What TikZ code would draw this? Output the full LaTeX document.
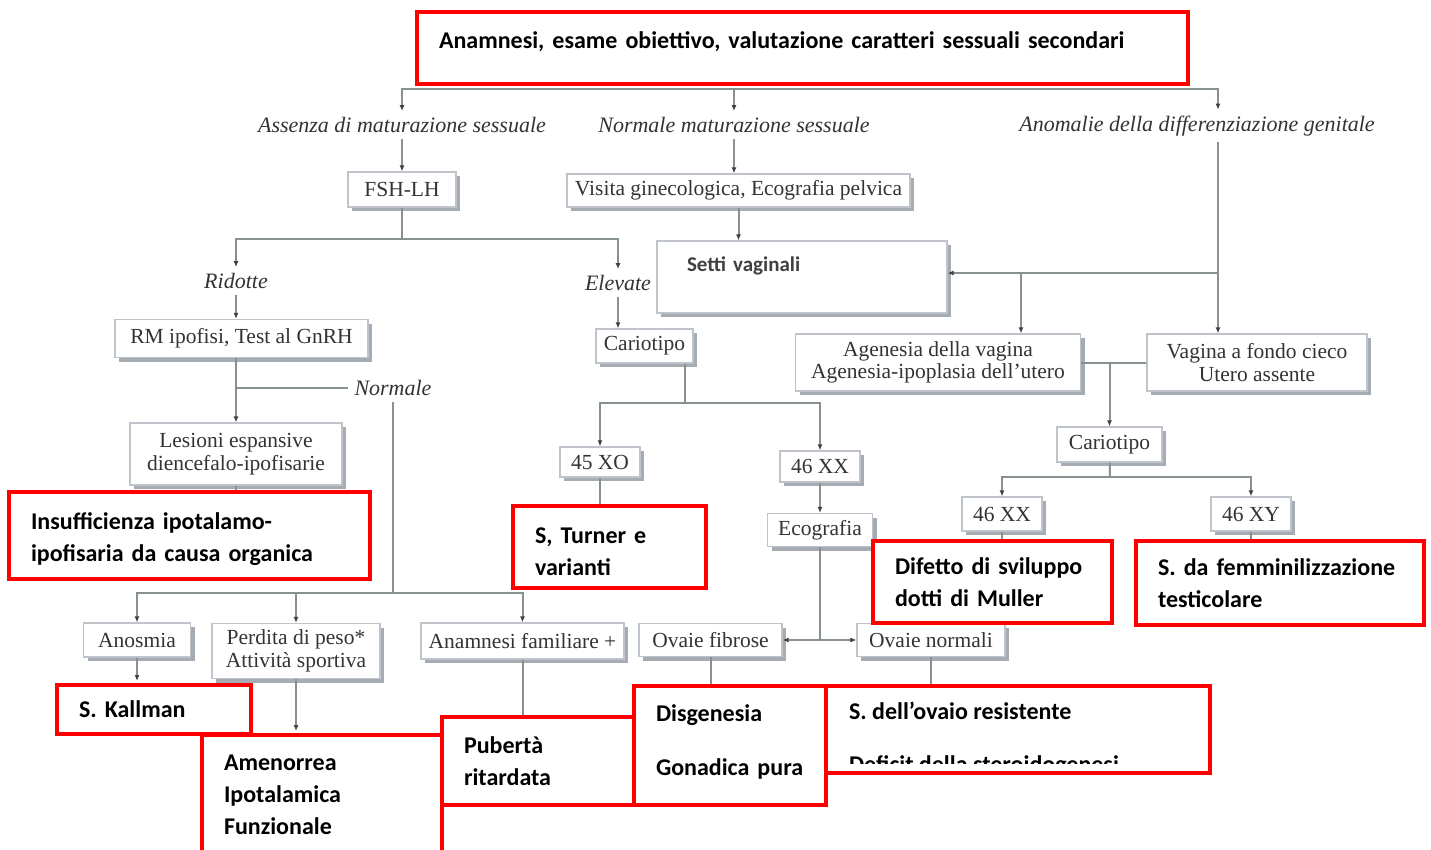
\documentclass[tikz,border=0pt]{standalone}
\usepackage{fontspec}
\setmainfont{Liberation Serif}
\newfontfamily\calibri{Carlito}
\usepackage{tikz}
\usetikzlibrary{positioning, shadows, arrows.meta}
\definecolor{linea}{RGB}{135,145,145}
\definecolor{bordo}{RGB}{190,196,202}
\definecolor{ombra}{RGB}{165,172,180}

\begin{document}
\begin{tikzpicture}[x=1pt, y=-1pt, ->, >={Latex[length=6pt, width=5pt, color=black!75]},
    esame/.style={draw=bordo, line width=1.2pt, fill=white, text=black!80, inner sep=0pt, align=center,
        font=\fontsize{21.5}{22.5}\selectfont,
        drop shadow={shadow xshift=4pt, shadow yshift=-4pt, fill=ombra, opacity=1}},
    dato/.style={font=\itshape\fontsize{22}{24}\selectfont, text=black!80, inner sep=6pt},
    esito/.style={draw=red, line width=4pt, fill=white, align=left, inner xsep=22pt,
        font=\calibri\bfseries\fontsize{24}{32}\selectfont},
    conn/.style={draw=linea, line width=2pt},
    tratto/.style={draw=linea, line width=2pt, -},
    finale/.style={shorten >=2pt}]
    \path[use as bounding box, fill=white] (0,0) rectangle (1431,850);

    % domande e risposte
    \node[dato] (assenza) at (402,125) {Assenza di maturazione sessuale};
    \node[dato] (normale) at (734,125) {Normale maturazione sessuale};
    \node[dato] (anomalie) at (1197,126) {Anomalie della differenziazione genitale};
    \node[dato] (ridotte) at (236,281) {Ridotte};
    \node[dato] (elevate) at (618,283) {Elevate};
    \node[dato] (normale2) at (393,388) {Normale};

    % esami
    \node[esame, minimum width=108pt, minimum height=35pt] (fsh) at (402,189.5) {FSH-LH};
    \node[esame, minimum width=343pt, minimum height=33pt] (visita) at (738.5,190.5) {Visita ginecologica, Ecografia pelvica};
    \node[esame, minimum width=290pt, minimum height=72pt, inner xsep=30pt, text width=230pt, align=left,
        text height=15pt, text depth=26pt, font=\calibri\bfseries\fontsize{21}{24}\selectfont, text=black!75] (setti) at (802,277) {Setti vaginali};
    \node[esame, minimum width=253pt, minimum height=38pt] (rm) at (241.5,338.5) {RM ipofisi, Test al GnRH};
    \node[esame, minimum width=97pt, minimum height=34pt] (cario) at (644.5,346) {Cariotipo};
    \node[esame, minimum width=285pt, minimum height=57pt] (agenesia) at (938,362.5) {Agenesia della vagina\\Agenesia-ipoplasia dell'utero};
    \node[esame, minimum width=220pt, minimum height=57pt] (vagina) at (1257,362.5) {Vagina a fondo cieco\\Utero assente};
    \node[esame, minimum width=212pt, minimum height=62pt] (lesioni) at (236,454) {Lesioni espansive\\diencefalo-ipofisarie};
    \node[esame, minimum width=80pt, minimum height=30pt] (xo) at (600,462) {45 XO};
    \node[esame, minimum width=80pt, minimum height=31pt] (xx) at (820,466.5) {46 XX};
    \node[esame, minimum width=105pt, minimum height=35pt] (cario2) at (1109.5,444.5) {Cariotipo};
    \node[esame, minimum width=80pt, minimum height=34pt] (xx2) at (1002,514) {46 XX};
    \node[esame, minimum width=80pt, minimum height=34pt] (xy) at (1251,514) {46 XY};
    \node[esame, minimum width=105pt, minimum height=33pt] (eco) at (820,530) {Ecografia};
    \node[esame, minimum width=107pt, minimum height=34pt] (anosmia) at (137,640) {Anosmia};
    \node[esame, minimum width=168pt, minimum height=55pt] (perdita) at (296,651) {Perdita di peso*\\Attività sportiva};
    \node[esame, minimum width=203pt, minimum height=36pt] (anamfam) at (522.5,641) {Anamnesi familiare +};
    \node[esame, minimum width=143pt, minimum height=33pt] (fibrose) at (710.5,640) {Ovaie fibrose};
    \node[esame, minimum width=148pt, minimum height=33pt] (normali) at (931,640) {Ovaie normali};

    % diagnosi
    \node[esito, text width=727pt, minimum height=72pt, text height=17pt, text depth=15pt] (anam) at (802.5,48) {Anamnesi, esame obiettivo, valutazione caratteri sessuali secondari};
    \node[esito, text width=317pt, minimum height=87pt] (insuff) at (189.5,535.5) {\rule{0pt}{25pt}Insufficienza ipotalamo-\\ipofisaria da causa organica};
    \node[esito, text width=149pt, minimum height=82pt] (turner) at (609.5,547) {\rule{0pt}{25pt}S, Turner e\\varianti};
    \node[esito, text width=195pt, minimum height=82pt] (difetto) at (992.5,582) {Difetto di sviluppo\\dotti di Muller};
    \node[esito, text width=244pt, minimum height=84pt] (femm) at (1280,583) {S. da femminilizzazione\\testicolare};
    \node[esito, text width=150pt, minimum height=49pt] (kallman) at (154,709.5) {S. Kallman};
    \node[esito, text width=196pt, minimum height=120pt] (amen) at (322,795) {Amenorrea\\Ipotalamica\\Funzionale};
    \node[esito, text width=148pt, minimum height=88pt] (pub) at (538,761) {Pubertà\\ritardata};
    \node[esito, text width=148pt, minimum height=119pt] (disg) at (730,745.5) {Disgenesia\\[22pt]Gonadica pura\rule[-11pt]{0pt}{0pt}};
    \node[esito, minimum width=384pt, minimum height=87pt, inner sep=0pt,
        path picture={
            \clip (path picture bounding box.north west) rectangle ([yshift=10pt]path picture bounding box.south east);
            \node[anchor=base west, inner sep=0pt, minimum width=0pt, minimum height=0pt, draw=none,
                font=\calibri\bfseries\fontsize{24}{32}\selectfont] (ovaio1)
                at ([xshift=21pt, yshift=-33pt]path picture bounding box.north west) {S. dell’ovaio resistente};
            \node[anchor=base west, inner sep=0pt, minimum width=0pt, minimum height=0pt, draw=none,
                font=\calibri\bfseries\fontsize{24}{32}\selectfont] (ovaio2)
                at ([xshift=21pt, yshift=-86pt]path picture bounding box.north west) {Deficit della steroidogenesi};
        }] (ovaio) at (1018,729.5) {};

    % punti di diramazione
    \coordinate (bivio1) at (393,593);
    \coordinate (bivio2) at (685,403);
    \coordinate (bivio3) at (820,640);
    \coordinate (bivio4) at (1218,273);
    \coordinate (bivio5) at (1021,273);
    \coordinate (bivio6) at (1110,477);

    \draw[conn] ([yshift=-3pt]anam.south) -| (assenza);
    \draw[conn] ([yshift=-3pt]anam.south) -| (normale);
    \draw[conn] ([yshift=-3pt]anam.south) -| ([xshift=21pt]anomalie.north);
    \draw[conn] (assenza) -- (fsh);
    \draw[conn] (normale) -- (normale |- visita.north);
    \draw[conn] (visita) -- (visita |- setti.north);
    \draw[conn] (fsh.south) -- ++(0,31) -| (ridotte);
    \draw[conn] (fsh.south) -- ++(0,31) -| (elevate);
    \draw[conn] (ridotte) -- (ridotte |- rm.north);
    \draw[conn] (elevate) -- (elevate |- cario.north);
    \draw[conn] (rm.south -| lesioni) -- (lesioni);
    \draw[tratto] (lesioni |- normale2) -- (normale2);
    \draw[tratto] (lesioni) -- (lesioni |- insuff.north);
    \draw[tratto] (normale2) -- (bivio1);
    \draw[conn] (bivio1) -| (anosmia);
    \draw[conn] (bivio1) -| (perdita);
    \draw[conn] (bivio1) -| (anamfam);
    \draw[conn, finale] (anosmia) -- (anosmia |- kallman.north);
    \draw[conn, finale] (perdita) -- (perdita |- amen.north);
    \draw[tratto] (anamfam) -- (anamfam |- pub.north);
    \draw[tratto] (bivio2 |- cario.south) -- (bivio2);
    \draw[conn] (bivio2) -| (xo);
    \draw[conn] (bivio2) -| (xx);
    \draw[tratto] (xo) -- (xo |- turner.north);
    \draw[conn] (xx) -- (eco);
    \draw[tratto] (eco) -- (bivio3);
    \draw[conn] (bivio3) -- (fibrose);
    \draw[conn] (bivio3) -- (normali);
    \draw[tratto] (fibrose) -- (fibrose |- disg.north);
    \draw[tratto] (normali) -- (normali |- ovaio.north);
    \draw[conn] ([xshift=21pt]anomalie.south) -- (bivio4 |- vagina.north);
    \draw[conn] (bivio4) -- (setti.east |- bivio4);
    \draw[conn] (bivio5) -- (bivio5 |- agenesia.north);
    \draw[tratto] (agenesia) -- (vagina);
    \draw[conn] (agenesia -| cario2) -- (cario2);
    \draw[tratto] (cario2) -- (bivio6);
    \draw[conn] (bivio6) -| (xx2);
    \draw[conn] (bivio6) -| (xy);
    \draw[tratto] (xx2) -- (xx2 |- difetto.north);
    \draw[tratto] (xy) -- (xy |- femm.north);
\end{tikzpicture}
\end{document}
